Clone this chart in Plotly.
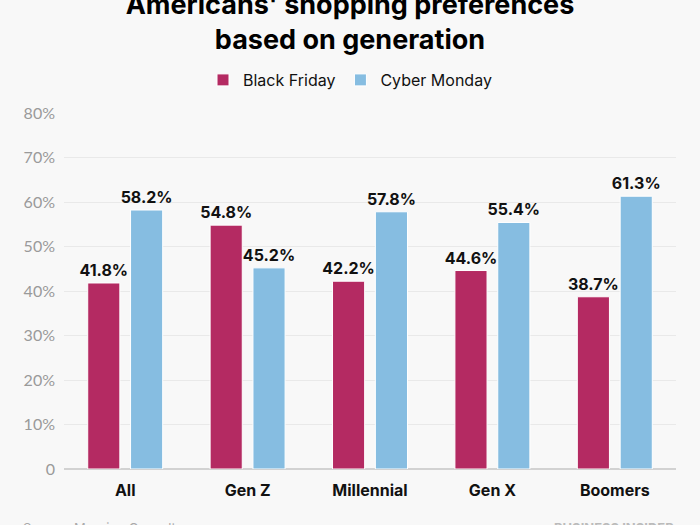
"""Grouped bar chart: Americans' shopping preferences by generation."""

import plotly.graph_objects as go

GENERATIONS = ['All', 'Gen Z', 'Millennial', 'Gen X', 'Boomers']
BLACK_FRIDAY = [41.8, 54.8, 42.2, 44.6, 38.7]
CYBER_MONDAY = [58.2, 45.2, 57.8, 55.4, 61.3]
Y_TICKS = [0, 10, 20, 30, 40, 50, 60, 70, 80]
Y_TICK_LABELS = ['0', '10%', '20%', '30%', '40%', '50%', '60%', '70%', '80%']

BG = '#f8f8f8'
FONT = 'Inter, Roboto, sans-serif'

fig = go.Figure()
for name, values, colour in (
    ('Black Friday', BLACK_FRIDAY, '#b42a62'),
    ('Cyber Monday', CYBER_MONDAY, '#86bde1'),
):
    fig.add_trace(go.Bar(
        name=name,
        x=GENERATIONS,
        y=values,
        marker=dict(color=colour, line=dict(color='#ffffff', width=1)),
        text=[f'{v:.1f}%' for v in values],
        textposition='outside',
        constraintext='none',
        textfont=dict(family=FONT, size=16, color='#111111', weight='bold'),
        cliponaxis=False,
    ))

fig.update_layout(
    width=700,
    height=525,
    barmode='group',
    bargap=0.3,
    bargroupgap=0.25,
    paper_bgcolor=BG,
    plot_bgcolor=BG,
    margin=dict(l=64, r=24, t=113, b=56, autoexpand=False),
    title=dict(
        text="Americans' shopping preferences<br>based on generation",
        x=0.5,
        xanchor='center',
        yref='container',
        y=1 - 14 / 525,
        yanchor='middle',
        font=dict(family=FONT, size=27, color='#000000', weight='bold'),
    ),
    legend=dict(
        orientation='h',
        xref='container',
        x=0.5,
        xanchor='center',
        yref='container',
        y=1 - 80 / 525,
        yanchor='middle',
        font=dict(family=FONT, size=16, color='#111111'),
        bgcolor='rgba(0,0,0,0)',
    ),
    showlegend=True,
    xaxis=dict(
        tickfont=dict(family=FONT, size=16, color='#111111', weight='bold'),
        ticks='',
        showline=False,
        automargin=False,
        ticklabelstandoff=10,
    ),
    yaxis=dict(
        range=[0, 80],
        tickvals=Y_TICKS,
        ticktext=Y_TICK_LABELS,
        tickfont=dict(family='Lato, sans-serif', size=16, color='#9a9a9a'),
        gridcolor='#e9e9e9',
        zeroline=True,
        zerolinecolor='#d2d2d2',
        zerolinewidth=2,
        ticklabelstandoff=8,
        automargin=False,
    ),
    annotations=[
        dict(
            text='Source: Morning Consult',
            xref='paper', yref='paper', x=-0.07, y=-0.166,
            xanchor='left', yanchor='middle', showarrow=False,
            font=dict(family=FONT, size=13, color='#aaaaaa'),
        ),
        dict(
            text='BUSINESS INSIDER',
            xref='paper', yref='paper', x=1.0, y=-0.166,
            xanchor='right', yanchor='middle', showarrow=False,
            font=dict(family=FONT, size=13, color='#bbbbbb', weight='bold'),
        ),
    ],
)

# the default page keeps an 8px body margin, drop it so the figure sits at 0,0
fig.write_html(
    'out.html',
    config={'displayModeBar': False},
    post_script="document.body.style.margin = '0';",
)
